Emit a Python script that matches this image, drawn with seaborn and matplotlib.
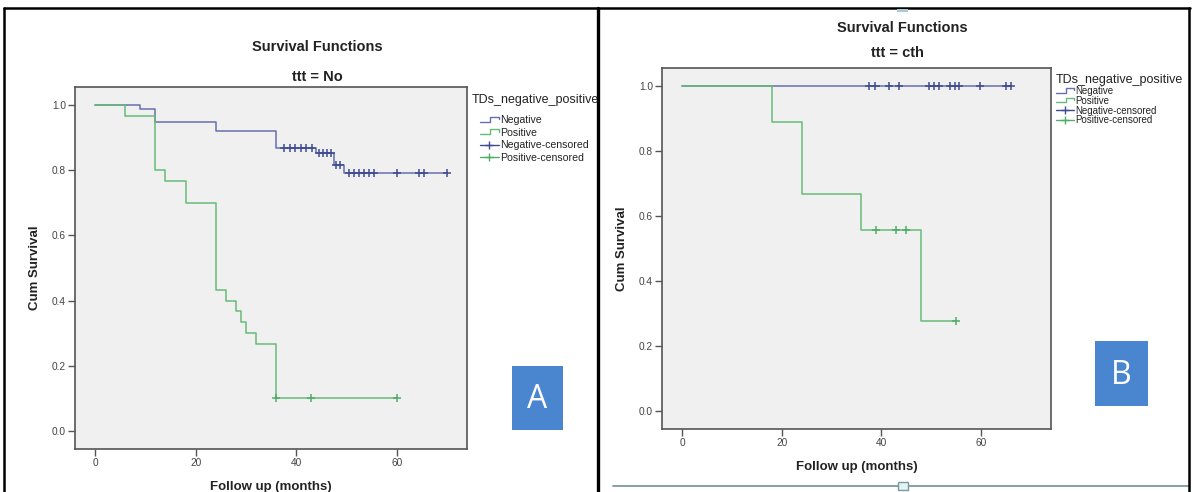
import numpy as np
import pandas as pd
import seaborn as sns
import matplotlib
matplotlib.use("Agg")
import matplotlib.pyplot as plt
from matplotlib.lines import Line2D
from matplotlib.patches import Rectangle
from matplotlib.legend_handler import HandlerBase

sns.set_theme(style="white")
plt.rcParams["font.family"] = ["Liberation Sans", "DejaVu Sans"]

# ---- data ----
groups = ["Negative", "Positive"]
x_ticks = [0, 20, 40, 60]
y_ticks = [0.0, 0.2, 0.4, 0.6, 0.8, 1.0]

# panel A : ttt = No
a_neg_time = [0, 9, 12, 24, 36, 44, 47.6, 49.5, 70]
a_neg_surv = [1.0, 0.988, 0.949, 0.920, 0.869, 0.854, 0.815, 0.790, 0.790]
a_neg_cens = [37.6, 38.7, 39.8, 40.9, 42.0, 43.1, 44.6, 45.4, 46.2, 47.0,
              48.0, 48.8, 50.5, 51.5, 52.5, 53.5, 54.5, 55.5, 60, 64.5, 65.5, 70]
a_pos_time = [0, 6, 12, 14, 18, 24, 26, 28, 29, 30, 32, 36, 60]
a_pos_surv = [1.0, 0.967, 0.800, 0.767, 0.700, 0.433, 0.400, 0.367, 0.333,
              0.300, 0.267, 0.100, 0.100]
a_pos_cens = [36, 43, 60]

# panel B : ttt = cth
b_neg_time = [0, 66]
b_neg_surv = [1.0, 1.0]
b_neg_cens = [37.5, 38.8, 41.6, 43.5, 49.6, 50.5, 51.5, 53.7, 54.7, 55.6,
              59.8, 65.0, 65.9]
b_pos_time = [0, 18, 24, 36, 48, 55]
b_pos_surv = [1.0, 0.889, 0.667, 0.556, 0.278, 0.278]
b_pos_cens = [39, 43, 45, 55]

palette = {"Negative": "#6670ad", "Positive": "#66bb78"}
cens_palette = {"Negative": "#3f4c92", "Positive": "#4fae63"}
W, H = 1192, 492


def fx(px):
    return px / W


def fy(py):
    return 1 - py / H


def step_at(times, surv, t):
    i = np.searchsorted(times, t, side="right") - 1
    return surv[i]


def curves_df(nt, ns, pt, ps):
    return pd.concat([
        pd.DataFrame({"time": nt, "surv": ns, "group": "Negative"}),
        pd.DataFrame({"time": pt, "surv": ps, "group": "Positive"}),
    ], ignore_index=True)


def cens_df(nt, ns, nc, pt, ps, pc):
    rows = [("Negative", c, step_at(nt, ns, c)) for c in nc]
    rows += [("Positive", c, step_at(pt, ps, c)) for c in pc]
    return pd.DataFrame(rows, columns=["group", "time", "surv"])


def draw_panel(ax, nt, ns, nc, pt, ps, pc):
    ax.set_facecolor("#f0f0f0")
    sns.lineplot(data=curves_df(nt, ns, pt, ps), x="time", y="surv", hue="group",
                 palette=palette, hue_order=groups, estimator=None, sort=False,
                 drawstyle="steps-post", linewidth=1.1, legend=False, ax=ax)
    sns.scatterplot(data=cens_df(nt, ns, nc, pt, ps, pc), x="time", y="surv",
                    hue="group", palette=cens_palette,
                    hue_order=groups, marker="+", s=34, linewidth=1.1,
                    legend=False, ax=ax, zorder=3)
    ax.set_xlim(-4, 74)
    ax.set_ylim(-0.055, 1.055)
    ax.set_xticks(x_ticks)
    ax.set_yticks(y_ticks)
    ax.set_yticklabels([f"{v:.1f}" for v in y_ticks])
    ax.tick_params(axis="both", bottom=True, left=True, direction="out",
                   length=5, width=1, color="#555555", labelcolor="#444444",
                   labelsize=7.3, pad=1.5)
    for sp in ax.spines.values():
        sp.set_visible(True)
        sp.set_color("#555555")
        sp.set_linewidth(1.2)
    ax.set_xlabel("Follow up (months)", fontsize=9.5, fontweight="bold",
                  color="#222222", labelpad=9)
    ax.set_ylabel("Cum Survival", fontsize=9.5, fontweight="bold",
                  color="#222222", labelpad=8)


class StepHandler(HandlerBase):
    def create_artists(self, legend, orig_handle, xdescent, ydescent, width,
                       height, fontsize, trans):
        x = np.array([0.0, 0.55, 0.55, 1.0, 1.0]) * width - xdescent
        y = np.array([0.2, 0.2, 0.85, 0.85, 0.55]) * height - ydescent
        ln = Line2D(x, y, color=orig_handle.get_color(), linewidth=1.0)
        ln.set_transform(trans)
        return [ln]


def add_legend(fig, tx, ty, ex, ey, fs, spacing, title_fs):
    fig.text(fx(tx), fy(ty), "TDs_negative_positive", ha="left", va="center",
             fontsize=title_fs, color="#222222")
    h_neg = Line2D([], [], color=palette["Negative"])
    h_pos = Line2D([], [], color=palette["Positive"])
    h_negc = Line2D([], [], color=cens_palette["Negative"], marker="+", markersize=6, linewidth=1)
    h_posc = Line2D([], [], color=cens_palette["Positive"], marker="+", markersize=6, linewidth=1)
    fig.legend([h_neg, h_pos, h_negc, h_posc],
               ["Negative", "Positive", "Negative-censored", "Positive-censored"],
               handler_map={h_neg: StepHandler(), h_pos: StepHandler()},
               loc="upper left", bbox_to_anchor=(fx(ex), fy(ey)),
               bbox_transform=fig.transFigure, frameon=False, fontsize=fs,
               handlelength=1.8, handletextpad=0.15, labelspacing=spacing,
               borderpad=0, borderaxespad=0, numpoints=1, labelcolor="#222222")


fig = plt.figure(figsize=(W / 100, H / 100), dpi=100)
fig.patch.set_facecolor("white")

ax_a = fig.add_axes([fx(75), fy(449), fx(467 - 75), (449 - 87) / H])
ax_b = fig.add_axes([fx(662), fy(429), fx(1051 - 662), (429 - 68) / H])

draw_panel(ax_a, a_neg_time, a_neg_surv, a_neg_cens, a_pos_time, a_pos_surv, a_pos_cens)
draw_panel(ax_b, b_neg_time, b_neg_surv, b_neg_cens, b_pos_time, b_pos_surv, b_pos_cens)

# titles
fig.text(fx(317), fy(47), "Survival Functions", ha="center", va="center",
         fontsize=10.5, fontweight="bold", color="#222222")
fig.text(fx(317), fy(77), "ttt = No", ha="center", va="center",
         fontsize=10.5, fontweight="bold", color="#222222")
fig.text(fx(902), fy(28), "Survival Functions", ha="center", va="center",
         fontsize=10.5, fontweight="bold", color="#222222")
fig.text(fx(897), fy(53), "ttt = cth", ha="center", va="center",
         fontsize=10.5, fontweight="bold", color="#222222")

# legends
add_legend(fig, 472, 100, 480, 115, 7.6, 0.25, 9)
add_legend(fig, 1056, 80, 1056, 86, 7, -0.02, 9)

# letter boxes
for (x0, y0, x1, y1, letter) in [(512, 366, 563, 430, "A"), (1095, 341, 1148, 406, "B")]:
    fig.patches.append(Rectangle((fx(x0), fy(y1)), fx(x1 - x0), (y1 - y0) / H,
                                 transform=fig.transFigure, facecolor="#4a85cf",
                                 edgecolor="none", zorder=5))
    fig.text(fx((x0 + x1) / 2), fy((y0 + y1) / 2 + 2), letter, ha="center", va="center",
             fontsize=23, color="white", family=["Open Sans", "DejaVu Sans"], zorder=6)

# panel borders
border = dict(color="black", linewidth=1.8, transform=fig.transFigure, zorder=10)
fig.add_artist(Line2D([fx(4), fx(1190)], [fy(8), fy(8)], **border))
fig.add_artist(Line2D([fx(4), fx(4)], [fy(8), 0], **border))
fig.add_artist(Line2D([fx(597.5), fx(597.5)], [fy(8), 0], linewidth=2.4,
                      color="black", transform=fig.transFigure, zorder=10))
fig.add_artist(Line2D([fx(1189), fx(1189)], [fy(8), 0], **border))

# picture frame remains on the right panel
fig.add_artist(Line2D([fx(613), fx(1189)], [fy(486), fy(486)], color="#7c9a9c",
                      linewidth=1.3, transform=fig.transFigure, zorder=9))
fig.patches.append(Rectangle((fx(898), fy(490)), fx(10), 8 / H, transform=fig.transFigure,
                             facecolor="#e4f3f7", edgecolor="#7c9a9c", linewidth=1, zorder=11))
fig.patches.append(Rectangle((fx(897), fy(12)), fx(11), 3 / H, transform=fig.transFigure,
                             facecolor="#a9cad6", edgecolor="none", zorder=11))

fig.savefig("out.png", dpi=100)
